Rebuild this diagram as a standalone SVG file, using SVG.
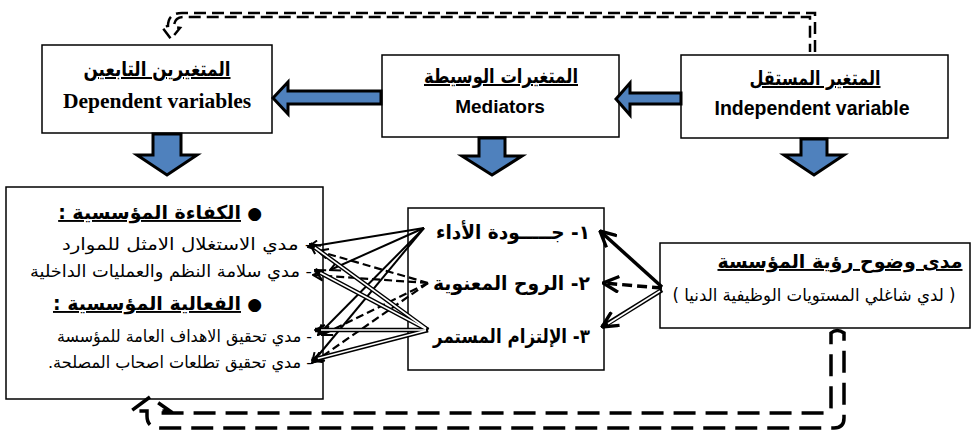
<svg xmlns="http://www.w3.org/2000/svg" width="974" height="437" viewBox="0 0 974 437">
<style>
.box{fill:#fff;stroke:#000;stroke-width:1.5}
.blk{fill:#4F81BD;stroke:#000;stroke-width:3;stroke-linejoin:miter}
.ar{font-family:"DejaVu Sans","Liberation Sans",sans-serif;direction:rtl;fill:#000}
.arb{font-weight:bold}
.ul{text-decoration:underline}
.en{font-family:"Liberation Sans",Arial,sans-serif;font-weight:bold;fill:#000}
.tnr{font-family:"Liberation Serif","Times New Roman",serif;font-weight:bold;fill:#000}
.sol{fill:none;stroke:#000;stroke-width:2}
.dsh{fill:none;stroke:#000;stroke-width:2.2;stroke-dasharray:8 4}
.dblk{fill:none;stroke:#000;stroke-width:4.5}
.dblw{fill:none;stroke:#fff;stroke-width:1.6}
.lnk{fill:none;stroke:#000;stroke-width:2.5;stroke-dasharray:12 6}
.lnk2{fill:none;stroke:#000;stroke-width:3.5;stroke-dasharray:22 10}
</style>
<defs>
<marker id="ah" viewBox="0 0 12 12" refX="11" refY="6" markerWidth="12" markerHeight="12" markerUnits="userSpaceOnUse" orient="auto">
<path d="M1,1 L11,6 L1,11" fill="none" stroke="#000" stroke-width="2"/>
</marker>
<marker id="ahb" viewBox="0 0 16 16" refX="15" refY="8" markerWidth="18" markerHeight="18" markerUnits="userSpaceOnUse" orient="auto">
<path d="M1,1 L15,8 L1,15" fill="none" stroke="#000" stroke-width="3"/>
</marker>
</defs>

<!-- top boxes -->
<g id="dependent">
<rect class="box" x="42" y="45" width="230" height="88"/>
<text class="ar arb ul" x="157" y="76" font-size="20" text-anchor="middle" textLength="147" lengthAdjust="spacingAndGlyphs">المتغيرين التابعين</text>
<text class="tnr" x="157" y="108" font-size="21.5" text-anchor="middle">Dependent variables</text>
</g>
<g id="mediators">
<rect class="box" x="382" y="55" width="237" height="82"/>
<text class="ar arb ul" x="501" y="83" font-size="20" text-anchor="middle" textLength="154" lengthAdjust="spacingAndGlyphs">المتغيرات الوسيطة</text>
<text class="en" x="500" y="113" font-size="19" text-anchor="middle">Mediators</text>
</g>
<g id="independent">
<rect class="box" x="681" y="55" width="267" height="83"/>
<text class="ar arb ul" x="815" y="85" font-size="20" text-anchor="middle" textLength="131" lengthAdjust="spacingAndGlyphs">المتغير المستقل</text>
<text class="en" x="812" y="115" font-size="19.5" text-anchor="middle">Independent variable</text>
</g>

<!-- lower boxes -->
<g id="outcomes">
<rect class="box" x="6" y="187" width="317" height="212"/>
<text class="ar" x="262" y="219" font-size="17" text-anchor="start">●</text>
<text class="ar arb ul" x="241" y="219" font-size="19" text-anchor="start">الكفاءة المؤسسية :</text>
<text class="ar" x="312" y="250" font-size="16.5" text-anchor="start" textLength="250" lengthAdjust="spacingAndGlyphs">- مدي الاستغلال الامثل للموارد</text>
<text class="ar" x="312" y="277" font-size="16.5" text-anchor="start" textLength="282" lengthAdjust="spacingAndGlyphs">- مدي سلامة النظم والعمليات الداخلية</text>
<text class="ar" x="262" y="310" font-size="17" text-anchor="start">●</text>
<text class="ar arb ul" x="241" y="310" font-size="19" text-anchor="start">الفعالية المؤسسية :</text>
<text class="ar" x="312" y="342" font-size="16.5" text-anchor="start" textLength="255" lengthAdjust="spacingAndGlyphs">- مدي تحقيق الاهداف العامة للمؤسسة</text>
<text class="ar" x="312" y="368" font-size="16.5" text-anchor="start" textLength="264" lengthAdjust="spacingAndGlyphs">- مدي تحقيق تطلعات اصحاب المصلحة.</text>
</g>
<g id="mediators-list">
<rect class="box" x="408" y="208" width="196" height="162"/>
<text class="ar arb" x="590" y="239" font-size="19.5" text-anchor="start" textLength="154" lengthAdjust="spacingAndGlyphs">١- جـــــودة الأداء</text>
<text class="ar arb" x="590" y="290" font-size="19.5" text-anchor="start" textLength="157" lengthAdjust="spacingAndGlyphs">٢- الروح المعنوية</text>
<text class="ar arb" x="590" y="343" font-size="19.5" text-anchor="start" textLength="157" lengthAdjust="spacingAndGlyphs">٣- الإلتزام المستمر</text>
</g>
<g id="vision">
<rect class="box" x="660" y="243" width="310" height="85"/>
<text class="ar arb ul" x="840" y="268" font-size="19" text-anchor="middle">مدى وضوح رؤية المؤسسة</text>
<text class="ar" x="814" y="301" font-size="17" text-anchor="middle" textLength="283" lengthAdjust="spacingAndGlyphs">( لدي شاغلي المستويات الوظيفية الدنيا )</text>
</g>

<g id="connectors">
<!-- block arrows -->
<path class="blk" d="M381,91 L288,91 L288,82 L273,98 L288,114 L288,104 L381,104 Z"/>
<path class="blk" d="M681,93 L630,93 L630,83 L616,99 L630,115 L630,104 L681,104 Z"/>
<path class="blk" d="M153,134 L153,155 L137,155 L167,175 L197,155 L181,155 L181,134 Z"/>
<path class="blk" d="M479,138 L479,156 L462,156 L492,175 L522,156 L505,156 L505,138 Z"/>
<path class="blk" d="M801,139 L801,155 L784,155 L814,175 L844,155 L827,155 L827,139 Z"/>

<!-- solid from item 1 -->
<path class="sol" marker-end="url(#ah)" d="M424,228 L308,247"/>
<path class="sol" marker-end="url(#ah)" d="M424,228 L330,270"/>
<path class="sol" marker-end="url(#ah)" d="M424,228 L318,335"/>
<path class="sol" marker-end="url(#ah)" d="M424,228 L312,363"/>
<!-- dashed from item 2 -->
<path class="dsh" marker-end="url(#ah)" d="M428,283 L318,251"/>
<path class="dsh" marker-end="url(#ah)" d="M428,283 L313,275"/>
<path class="dsh" marker-end="url(#ah)" d="M428,283 L322,335"/>
<path class="dsh" marker-end="url(#ah)" d="M428,283 L314,362"/>
<!-- double from item 3 -->
<path class="dblk" marker-end="url(#ah)" d="M428,330 L310,244"/>
<path class="dblk" marker-end="url(#ah)" d="M428,330 L315,270"/>
<path class="dblk" marker-end="url(#ah)" d="M428,330 L315,330"/>
<path class="dblk" marker-end="url(#ah)" d="M428,330 L312,360"/>
<path class="dblw" d="M426,328.5 L314.8,247.5"/>
<path class="dblw" d="M426,329 L320.3,272.8"/>
<path class="dblw" d="M426,330 L321,330"/>
<path class="dblw" d="M426,330.5 L317.8,358.5"/>

<!-- from vision box -->
<path fill="none" stroke="#000" stroke-width="3.5" marker-end="url(#ahb)" d="M662,287 L600,231"/>
<path fill="none" stroke="#000" stroke-width="3.5" stroke-dasharray="10 5" marker-end="url(#ahb)" d="M662,288 L603,283"/>
<path class="dblk" marker-end="url(#ahb)" d="M662,290 L602,327"/>
<path class="dblw" d="M660,291 L608,323.8"/>

<!-- dashed feedback loops -->
<path class="lnk" d="M815,52 L815,13 L182,13 Q168,13 168,26 L162,27 L171,39 L180,28 L174,27 Q174,17 184,17 L810,17 L810,52"/>
<path class="lnk2" d="M831,333 Q837,328 844,333 L844,418 Q844,428 834,428 L160,428 Q147,428 147,416 L147,411 L131,411 L150,397 L170,411 L158,411 L158,413 L826,413 Q831,413 831,408 Z"/>
</g>
</svg>
